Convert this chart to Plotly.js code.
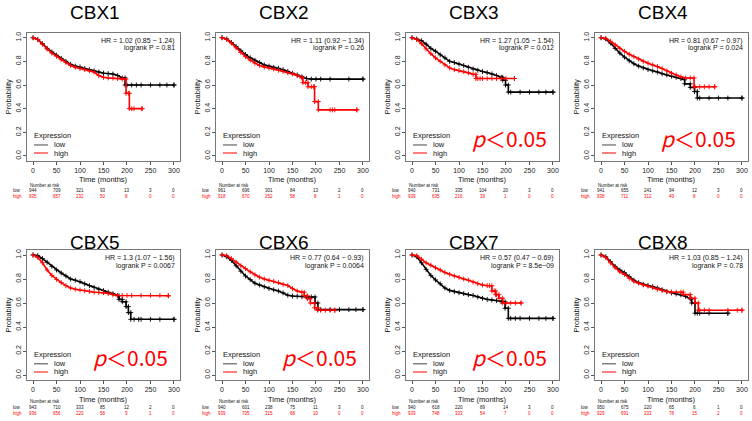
<!DOCTYPE html>
<html><head><meta charset="utf-8">
<script src="https://cdn.plot.ly/plotly-3.0.1.min.js"></script>
<style>html,body{margin:0;padding:0;background:#fff}#chart{width:752px;height:421px}</style>
</head><body><div id="chart"></div>
<script>
const categories = ['CBX1','CBX2','CBX3','CBX4','CBX5','CBX6','CBX7','CBX8'];
const xTicks = [0,50,100,150,200,250,300];
const yTicks = [0,0.2,0.4,0.6,0.8,1.0];
const yTickText = ['0.0','0.2','0.4','0.6','0.8','1.0'];
const riskTimes = [0,50,100,150,200,250,300];

// CBX1
const lowT1 = [0,10,20,30,40,50,60,70,80,90,100,110,120,130,140,150,160,170,180,190,196,196,300];
const lowS1 = [1,0.985,0.95,0.91,0.88,0.852,0.825,0.80,0.775,0.76,0.753,0.74,0.73,0.72,0.71,0.70,0.697,0.693,0.68,0.66,0.66,0.60,0.60];
const lowC1 = [200,210,220,230,250,270,285,300];
const highT1 = [0,10,20,30,40,50,60,70,80,90,100,110,120,130,140,150,160,170,180,190,198,198,205,205,232];
const highS1 = [1,0.985,0.945,0.905,0.87,0.844,0.815,0.79,0.765,0.75,0.739,0.73,0.72,0.71,0.68,0.665,0.66,0.658,0.655,0.65,0.65,0.53,0.53,0.40,0.40];
const highC1 = [203,210,215,232];
// CBX2
const lowT2 = [0,10,20,30,40,50,60,70,80,90,100,110,120,130,140,150,160,170,180,190,300];
const lowS2 = [1,0.99,0.96,0.925,0.89,0.858,0.83,0.81,0.79,0.77,0.76,0.75,0.742,0.73,0.715,0.70,0.685,0.67,0.655,0.65,0.65];
const lowC2 = [200,210,230,270,300];
const highT2 = [0,10,20,30,40,50,60,70,80,90,100,110,120,130,140,150,160,170,172,172,183,183,197,197,205,205,287];
const highS2 = [1,0.985,0.955,0.915,0.875,0.84,0.81,0.785,0.765,0.752,0.745,0.735,0.725,0.715,0.705,0.695,0.68,0.66,0.66,0.62,0.62,0.586,0.586,0.46,0.46,0.39,0.39];
const highC2 = [178,190,195,230,235,240,287];
// CBX3
const lowT3 = [0,10,20,30,40,50,60,70,80,90,100,110,120,130,140,150,160,170,180,190,193,193,199,199,205,205,300];
const lowS3 = [1,0.99,0.975,0.945,0.91,0.886,0.855,0.83,0.80,0.79,0.777,0.765,0.75,0.735,0.725,0.714,0.705,0.694,0.68,0.665,0.665,0.64,0.64,0.60,0.60,0.54,0.54];
const lowC3 = [210,230,250,270,285,300];
const highT3 = [0,10,20,30,40,50,60,70,80,90,100,110,120,130,136,136,218];
const highS3 = [1,0.985,0.95,0.905,0.865,0.83,0.80,0.77,0.745,0.73,0.723,0.713,0.703,0.69,0.69,0.655,0.655];
const highC3 = [140,145,150,160,170,180,190,200,218];
// CBX4
const lowT4 = [0,10,20,30,40,50,60,70,80,90,100,110,120,130,140,150,160,170,178,178,190,190,199,199,205,205,300];
const lowS4 = [1,0.99,0.955,0.91,0.87,0.836,0.805,0.78,0.76,0.745,0.73,0.72,0.71,0.695,0.685,0.675,0.665,0.655,0.645,0.61,0.61,0.58,0.58,0.545,0.545,0.49,0.49];
const lowC4 = [210,230,250,270,300];
const highT4 = [0,10,20,30,40,50,60,70,80,90,100,110,120,130,140,150,160,170,180,190,198,198,242];
const highS4 = [1,0.995,0.97,0.94,0.91,0.885,0.86,0.84,0.82,0.80,0.785,0.77,0.757,0.74,0.72,0.70,0.685,0.67,0.66,0.66,0.66,0.585,0.585];
const highC4 = [200,210,220,230,242];
// CBX5
const lowT5 = [0,10,20,30,40,50,60,70,80,90,100,110,120,130,140,150,160,170,180,183,183,190,190,198,198,203,203,208,208,300];
const lowS5 = [1,0.995,0.97,0.94,0.905,0.875,0.85,0.825,0.80,0.79,0.778,0.76,0.745,0.73,0.715,0.703,0.69,0.678,0.66,0.66,0.63,0.63,0.61,0.61,0.57,0.57,0.52,0.52,0.464,0.464];
const lowC5 = [215,225,230,250,270,300];
const highT5 = [0,10,20,30,40,50,60,70,80,90,100,110,120,130,140,150,160,170,180,288];
const highS5 = [1,0.98,0.935,0.875,0.83,0.797,0.77,0.745,0.725,0.715,0.708,0.703,0.697,0.69,0.688,0.686,0.68,0.67,0.663,0.66];
const highC5 = [190,200,210,230,250,270,288];
// CBX6
const lowT6 = [0,10,20,30,40,50,60,70,80,90,100,110,120,130,140,150,160,170,180,190,198,198,204,204,300];
const lowS6 = [1,0.985,0.955,0.91,0.865,0.825,0.795,0.765,0.75,0.735,0.72,0.71,0.70,0.685,0.665,0.658,0.655,0.653,0.65,0.65,0.65,0.60,0.60,0.545,0.545];
const lowC6 = [210,230,250,270,285,300];
const highT6 = [0,10,20,30,40,50,60,70,80,90,100,110,120,130,140,150,160,170,175,175,182,182,188,188,197,197,203,203,240];
const highS6 = [1,0.995,0.97,0.94,0.91,0.886,0.86,0.835,0.815,0.80,0.789,0.78,0.77,0.755,0.745,0.72,0.70,0.69,0.69,0.66,0.66,0.636,0.636,0.60,0.60,0.56,0.56,0.54,0.54];
const highC6 = [210,220,230,240];
// CBX7
const lowT7 = [0,10,20,30,40,50,60,70,80,90,100,110,120,130,140,150,160,170,180,190,198,198,205,205,300];
const lowS7 = [1,0.985,0.935,0.88,0.83,0.792,0.76,0.725,0.705,0.695,0.686,0.678,0.67,0.663,0.65,0.639,0.63,0.625,0.62,0.61,0.61,0.556,0.556,0.472,0.472];
const lowC7 = [210,220,230,250,270,285,300];
const highT7 = [0,10,20,30,40,50,60,70,80,90,100,110,120,130,140,150,160,165,170,170,178,178,185,185,193,193,232];
const highS7 = [1,0.995,0.965,0.935,0.915,0.894,0.875,0.855,0.84,0.825,0.814,0.80,0.79,0.775,0.76,0.75,0.745,0.744,0.744,0.70,0.70,0.67,0.67,0.64,0.64,0.60,0.60];
const highC7 = [175,180,200,210,220,232];
// CBX8
const lowT8 = [0,10,20,30,40,50,60,70,80,90,100,110,120,130,140,150,160,170,180,190,193,193,200,200,270];
const lowS8 = [1,0.985,0.945,0.905,0.875,0.852,0.82,0.79,0.77,0.755,0.746,0.737,0.725,0.71,0.695,0.684,0.675,0.668,0.655,0.634,0.634,0.60,0.60,0.515,0.515];
const lowC8 = [205,210,230,270];
const highT8 = [0,10,20,30,40,50,60,70,80,90,100,110,120,130,140,150,160,170,175,175,190,190,200,200,207,207,300];
const highS8 = [1,0.98,0.935,0.895,0.86,0.838,0.805,0.78,0.765,0.75,0.74,0.728,0.715,0.705,0.695,0.692,0.69,0.69,0.69,0.67,0.67,0.64,0.64,0.60,0.60,0.54,0.54];
const highC8 = [210,220,230,270,290,300];

// Hazard ratio / logrank texts
const hrText = ['HR = 1.02 (0.85 − 1.24)','HR = 1.11 (0.92 − 1.34)','HR = 1.27 (1.05 − 1.54)','HR = 0.81 (0.67 − 0.97)',
                'HR = 1.3 (1.07 − 1.56)','HR = 0.77 (0.64 − 0.93)','HR = 0.57 (0.47 − 0.69)','HR = 1.03 (0.85 − 1.24)'];
const pText = ['logrank P = 0.81','logrank P = 0.26','logrank P = 0.012','logrank P = 0.024',
               'logrank P = 0.0067','logrank P = 0.0064','logrank P = 8.5e−09','logrank P = 0.78'];
const significant = [false,false,true,true,true,true,true,false];

// Numbers at risk
const riskLow = [[944,709,321,93,13,3,0],[961,696,301,84,13,2,0],[940,731,335,104,20,3,0],[941,655,241,94,12,3,0],
                 [943,710,333,85,12,2,0],[940,601,238,75,11,3,0],[940,618,220,89,14,3,0],[950,675,220,65,6,1,0]];
const riskHigh = [[935,657,232,50,8,0,0],[918,670,252,58,8,1,0],[939,635,216,39,1,0,0],[938,711,312,49,8,0,0],
                  [936,656,220,58,9,1,0],[939,705,315,68,10,0,0],[939,748,333,54,7,0,0],[929,691,333,78,15,2,0]];

const lowT = [lowT1,lowT2,lowT3,lowT4,lowT5,lowT6,lowT7,lowT8];
const lowS = [lowS1,lowS2,lowS3,lowS4,lowS5,lowS6,lowS7,lowS8];
const lowC = [lowC1,lowC2,lowC3,lowC4,lowC5,lowC6,lowC7,lowC8];
const highT = [highT1,highT2,highT3,highT4,highT5,highT6,highT7,highT8];
const highS = [highS1,highS2,highS3,highS4,highS5,highS6,highS7,highS8];
const highC = [highC1,highC2,highC3,highC4,highC5,highC6,highC7,highC8];

// ---- layout geometry ----
const W = 752, H = 421;
const XR = [-12, 312], YR = [-0.04, 1.04];
const colPx = [[27.4,179.6],[216.4,368.6],[406.4,558.6],[595.4,747.6]];
const rowPx = [[33,160.7],[250.2,379.8]];
const rowText = [{title:12.5, xt:179, nar:185, low:191, high:196.5},{title:242.5, xt:399, nar:401.5, low:407.5, high:413.5}];
const BLACK = '#000000', RED = '#ff0000';
const FONT = 'Liberation Sans, Arial, sans-serif';

function stepAt(ts, ss, t){ let v = ss[0]; for(let i=0;i<ts.length;i++){ if(ts[i] <= t) v = ss[i]; } return v; }
function px2x(px){ return px / W; }
function px2y(px){ return 1 - px / H; }
function xPaper(col, t){ const [a,b] = colPx[col]; return px2x(a + (t - XR[0])/(XR[1]-XR[0])*(b-a)); }

const traces = [], annotations = [], shapes = [];
const layout = {width:W, height:H, margin:{l:0,r:0,t:0,b:0}, paper_bgcolor:'#fff', plot_bgcolor:'#fff', showlegend:false, font:{family:FONT}};

for(let k=0;k<8;k++){
  const col = k % 4, row = Math.floor(k/4);
  const n = k+1;
  const xa = 'x'+n, ya = 'y'+n;
  const xKey = 'xaxis' + (n===1?'':n), yKey = 'yaxis' + (n===1?'':n);
  layout[xKey] = {domain:[px2x(colPx[col][0]), px2x(colPx[col][1])], range:XR, anchor:ya,
    tickvals:xTicks, ticks:'outside', ticklen:3, tickwidth:1, tickcolor:'#555',
    showline:true, mirror:true, linecolor:'#777', linewidth:1, showgrid:false, zeroline:false,
    tickfont:{size:7, color:'#222', family:FONT}, fixedrange:true};
  layout[yKey] = {domain:[px2y(rowPx[row][1]), px2y(rowPx[row][0])], range:YR, anchor:xa,
    tickvals:yTicks, ticktext:yTickText, tickangle:-90, ticks:'outside', ticklen:3, tickwidth:1, tickcolor:'#555',
    showline:true, mirror:true, linecolor:'#777', linewidth:1, showgrid:false, zeroline:false,
    tickfont:{size:7, color:'#222', family:FONT}, fixedrange:true};

  const groups = [[lowT[k],lowS[k],lowC[k],BLACK],[highT[k],highS[k],highC[k],RED]];
  for(const [ts,ss,cs,color] of groups){
    traces.push({x:ts, y:ss, xaxis:xa, yaxis:ya, type:'scatter', mode:'lines+markers', cliponaxis:true,
      line:{color:color, width:1.6}, marker:{symbol:'cross-thin-open', size:3.5, color:color, line:{color:color, width:0.9}}, hoverinfo:'skip'});
    traces.push({x:cs, y:cs.map(t=>stepAt(ts,ss,t)), xaxis:xa, yaxis:ya, type:'scatter', mode:'markers',
      marker:{symbol:'cross-thin-open', size:3.5, color:color, line:{color:color, width:0.9}}, hoverinfo:'skip'});
  }

  const rt = rowText[row];
  const cx = (colPx[col][0] + colPx[col][1]) / 2;
  annotations.push({text:categories[k], xref:'paper', yref:'paper', x:px2x(cx - 9), y:px2y(rt.title),
    xanchor:'center', yanchor:'middle', showarrow:false, font:{size:19, family:'Liberation Sans Narrow, Arial Narrow, Liberation Sans, Arial', color:'#000'}});
  annotations.push({text:hrText[k], xref:xa, yref:ya, x:306, y:0.972, xanchor:'right', yanchor:'middle', showarrow:false, font:{size:7, color:'#111'}});
  annotations.push({text:pText[k], xref:xa, yref:ya, x:306, y:0.912, xanchor:'right', yanchor:'middle', showarrow:false, font:{size:7, color:'#111'}});
  if(significant[k]){
    annotations.push({text:'<i>p</i>＜0.05', xref:xa, yref:ya, x:208, y:0.15, xanchor:'center', yanchor:'middle', showarrow:false,
      font:{size:21, color:'#ff0000', family:'Noto Sans CJK SC, Noto Sans, sans-serif'}});
  }
  annotations.push({text:'Expression', xref:xa, yref:ya, x:-3, y:0.172, xanchor:'left', yanchor:'middle', showarrow:false, font:{size:7.5, color:'#111'}});
  annotations.push({text:'low', xref:xa, yref:ya, x:40, y:0.093, xanchor:'left', yanchor:'middle', showarrow:false, font:{size:7.5, color:'#111'}});
  annotations.push({text:'high', xref:xa, yref:ya, x:40, y:0.025, xanchor:'left', yanchor:'middle', showarrow:false, font:{size:7.5, color:'#111'}});
  shapes.push({type:'line', xref:xa, yref:ya, x0:2, x1:32, y0:0.093, y1:0.093, line:{color:'#444', width:1}});
  shapes.push({type:'line', xref:xa, yref:ya, x0:2, x1:32, y0:0.025, y1:0.025, line:{color:RED, width:1}});
  annotations.push({text:'Probability', xref:'paper', yref:'paper', x:px2x(colPx[col][0] - 19), y:px2y((rowPx[row][0]+rowPx[row][1])/2),
    xanchor:'center', yanchor:'middle', textangle:-90, showarrow:false, font:{size:7.5, color:'#111'}});
  annotations.push({text:'Time (months)', xref:'paper', yref:'paper', x:px2x(cx), y:px2y(rt.xt),
    xanchor:'center', yanchor:'middle', showarrow:false, font:{size:7.5, color:'#111'}});
  const x0px = colPx[col][0] + (0 - XR[0])/(XR[1]-XR[0])*(colPx[col][1]-colPx[col][0]);
  annotations.push({text:'Number at risk', xref:'paper', yref:'paper', x:px2x(x0px - 5), y:px2y(rt.nar),
    xanchor:'left', yanchor:'middle', showarrow:false, font:{size:4.5, color:'#111'}});
  annotations.push({text:'low', xref:'paper', yref:'paper', x:px2x(x0px - 16), y:px2y(rt.low),
    xanchor:'center', yanchor:'middle', showarrow:false, font:{size:4.5, color:'#111'}});
  annotations.push({text:'high', xref:'paper', yref:'paper', x:px2x(x0px - 16), y:px2y(rt.high),
    xanchor:'center', yanchor:'middle', showarrow:false, font:{size:4.5, color:RED}});
  riskTimes.forEach((t,i)=>{
    annotations.push({text:String(riskLow[k][i]), xref:'paper', yref:'paper', x:xPaper(col,t), y:px2y(rt.low),
      xanchor:'center', yanchor:'middle', showarrow:false, font:{size:4.5, color:'#111'}});
    annotations.push({text:String(riskHigh[k][i]), xref:'paper', yref:'paper', x:xPaper(col,t), y:px2y(rt.high),
      xanchor:'center', yanchor:'middle', showarrow:false, font:{size:4.5, color:RED}});
  });
}
layout.annotations = annotations;
layout.shapes = shapes;
Plotly.newPlot('chart', traces, layout, {staticPlot:true, displayModeBar:false});
</script></body></html>
